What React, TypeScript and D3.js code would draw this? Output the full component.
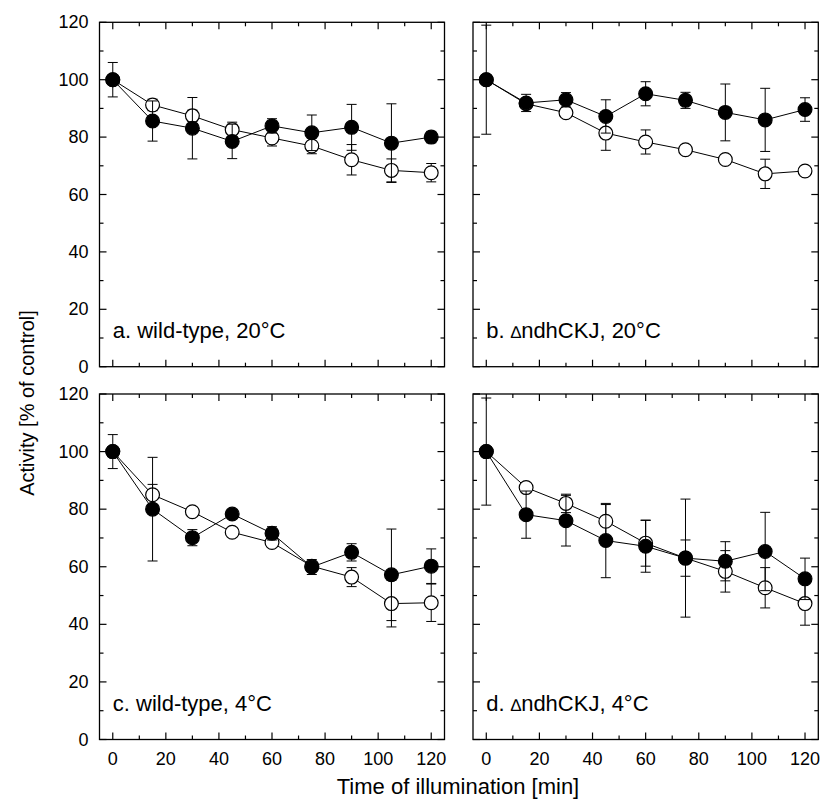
import * as d3 from "d3";
import React from "react";

// time points (min)
const times = [0, 15, 30, 45, 60, 75, 90, 105, 120];

// a. wild-type, 20°C
const aFilled = [100, 85.6, 83.1, 78.5, 83.9, 81.5, 83.4, 77.9, 80.0];
const aFilledErr = [6, 7, 10.7, 6, 2.5, 6.2, 8, 13.7, 2];
const aOpen = [100, 91.2, 87.4, 82.6, 79.7, 76.9, 72.1, 68.4, 67.6];
const aOpenErr = [1, 2, 2, 2.6, 2.8, 2.7, 5.3, 4, 3.2];

// b. ΔndhCKJ, 20°C
const bFilled = [100, 91.9, 93.0, 87.2, 95.1, 92.8, 88.6, 86.0, 89.6];
const bFilledErr = [19, 3, 2.5, 5.8, 4.2, 2.8, 9.9, 11, 4.1];
const bOpen = [100, 91.6, 88.5, 81.4, 78.3, 75.6, 72.2, 67.2, 68.2];
const bOpenErr = [1, 1.5, 1.5, 6, 4.2, 1, 1.5, 5.1, 1.5];

// c. wild-type, 4°C
const cFilled = [100, 80, 70.1, 78.3, 71.6, 59.9, 65, 57.2, 60.2];
const cFilledErr = [5.9, 18, 2.8, 1.5, 2.3, 2.6, 3, 15.9, 6];
const cOpen = [100, 85, 79.1, 72, 68.4, 60.2, 56.4, 47.2, 47.5];
const cOpenErr = [1, 3.6, 1.5, 1.5, 1.5, 1.5, 3.3, 8.1, 6.5];

// d. ΔndhCKJ, 4°C
const dFilled = [100, 78.1, 76, 69.1, 67.1, 63, 61.9, 65.3, 55.8];
const dFilledErr = [18.6, 8.2, 8.8, 12.9, 9, 20.5, 6.8, 13.6, 7.2];
const dOpen = [100, 87.5, 82, 75.8, 68.2, 63, 58.4, 52.7, 47.2];
const dOpenErr = [1, 1.5, 3.2, 5.8, 8, 6.3, 7.2, 7, 7.5];

const xTicks = [0, 20, 40, 60, 80, 100, 120];
const yTicks = [0, 20, 40, 60, 80, 100, 120];

const FONT = "'Liberation Sans', Arial, Helvetica, sans-serif";

const panels = [
  { pre: "a. ", delta: false, post: "wild-type, 20°C", filled: aFilled, filledErr: aFilledErr, open: aOpen, openErr: aOpenErr, col: 0, row: 0 },
  { pre: "b. ", delta: true, post: "ndhCKJ, 20°C", filled: bFilled, filledErr: bFilledErr, open: bOpen, openErr: bOpenErr, col: 1, row: 0 },
  { pre: "c. ", delta: false, post: "wild-type, 4°C", filled: cFilled, filledErr: cFilledErr, open: cOpen, openErr: cOpenErr, col: 0, row: 1 },
  { pre: "d. ", delta: true, post: "ndhCKJ, 4°C", filled: dFilled, filledErr: dFilledErr, open: dOpen, openErr: dOpenErr, col: 1, row: 1 },
];

const colX = [[99.5, 444.5], [473, 818.3]];
const rowY = [[22.3, 366.7], [394, 739.5]];

function Panel({ p }: { p: typeof panels[number] }) {
  const [x0, x1] = colX[p.col];
  const [y0, y1] = rowY[p.row];
  const x = d3.scaleLinear().domain([-5, 125]).range([x0, x1]);
  const y = d3.scaleLinear().domain([0, 120]).range([y1, y0]);

  const line = d3.line<number>()
    .x((d, i) => x(times[i]))
    .y(d => y(d));

  const major = 7, minor = 4;
  const xMinor = d3.range(10, 120, 20);
  const yMinor = d3.range(10, 120, 20);

  const series = (vals: number[], errs: number[], fill: string, key: string) => (
    <g key={key}>
      <path d={line(vals) || ""} fill="none" stroke="#000" strokeWidth={1} />
      {vals.map((v, i) => {
        const cx = x(times[i]);
        const top = y(v + errs[i]), bot = y(v - errs[i]);
        return (
          <g key={i} stroke="#000" strokeWidth={1}>
            <line x1={cx} x2={cx} y1={top} y2={bot} />
            <line x1={cx - 5} x2={cx + 5} y1={top} y2={top} />
            <line x1={cx - 5} x2={cx + 5} y1={bot} y2={bot} />
          </g>
        );
      })}
      {vals.map((v, i) => (
        <circle key={"m" + i} cx={x(times[i])} cy={y(v)} r={6.9}
          fill={fill} stroke="#000" strokeWidth={1.2} />
      ))}
    </g>
  );

  return (
    <g>
      {/* ticks, all pointing inward */}
      <g stroke="#000" strokeWidth={1.2}>
        {xTicks.map(t => (
          <g key={"xt" + t}>
            <line x1={x(t)} x2={x(t)} y1={y1} y2={y1 - major} />
            <line x1={x(t)} x2={x(t)} y1={y0} y2={y0 + major} />
          </g>
        ))}
        {xMinor.map(t => (
          <g key={"xm" + t}>
            <line x1={x(t)} x2={x(t)} y1={y1} y2={y1 - minor} />
            <line x1={x(t)} x2={x(t)} y1={y0} y2={y0 + minor} />
          </g>
        ))}
        {yTicks.map(t => (
          <g key={"yt" + t}>
            <line x1={x0} x2={x0 + major} y1={y(t)} y2={y(t)} />
            <line x1={x1} x2={x1 - major} y1={y(t)} y2={y(t)} />
          </g>
        ))}
        {yMinor.map(t => (
          <g key={"ym" + t}>
            <line x1={x0} x2={x0 + minor} y1={y(t)} y2={y(t)} />
            <line x1={x1} x2={x1 - minor} y1={y(t)} y2={y(t)} />
          </g>
        ))}
      </g>
      <rect x={x0} y={y0} width={x1 - x0} height={y1 - y0} fill="none" stroke="#000" strokeWidth={1.3} />

      {p.col === 0 && yTicks.map(t => (
        <text key={"yl" + t} x={x0 - 11} y={y(t)} textAnchor="end" dominantBaseline="central"
          fontSize={18} fontFamily={FONT}>{t}</text>
      ))}
      {p.row === 1 && xTicks.map(t => (
        <text key={"xl" + t} x={x(t)} y={y1 + 25.5} textAnchor="middle"
          fontSize={18} fontFamily={FONT}>{t}</text>
      ))}

      {series(p.open, p.openErr, "#fff", "open")}
      {series(p.filled, p.filledErr, "#000", "filled")}

      <text x={x(0)} y={y1 - 29} fontSize={22} fontFamily={FONT}>
        {p.pre}
        {p.delta && <tspan fontSize={17}>{"\u2206"}</tspan>}
        {p.post}
      </text>
    </g>
  );
}

export default function App() {
  return (
    <svg width={833} height={803} style={{ position: "absolute", left: 0, top: 0, background: "#fff" }}>
      <rect width={833} height={803} fill="#fff" />
      {panels.map((p, i) => <Panel key={i} p={p} />)}
      <text transform="translate(34,403) rotate(-90)" textAnchor="middle" fontSize={20} fontFamily={FONT}>
        Activity [% of control]
      </text>
      <text x={458} y={794} textAnchor="middle" fontSize={22} fontFamily={FONT}>
        Time of illumination [min]
      </text>
    </svg>
  );
}
